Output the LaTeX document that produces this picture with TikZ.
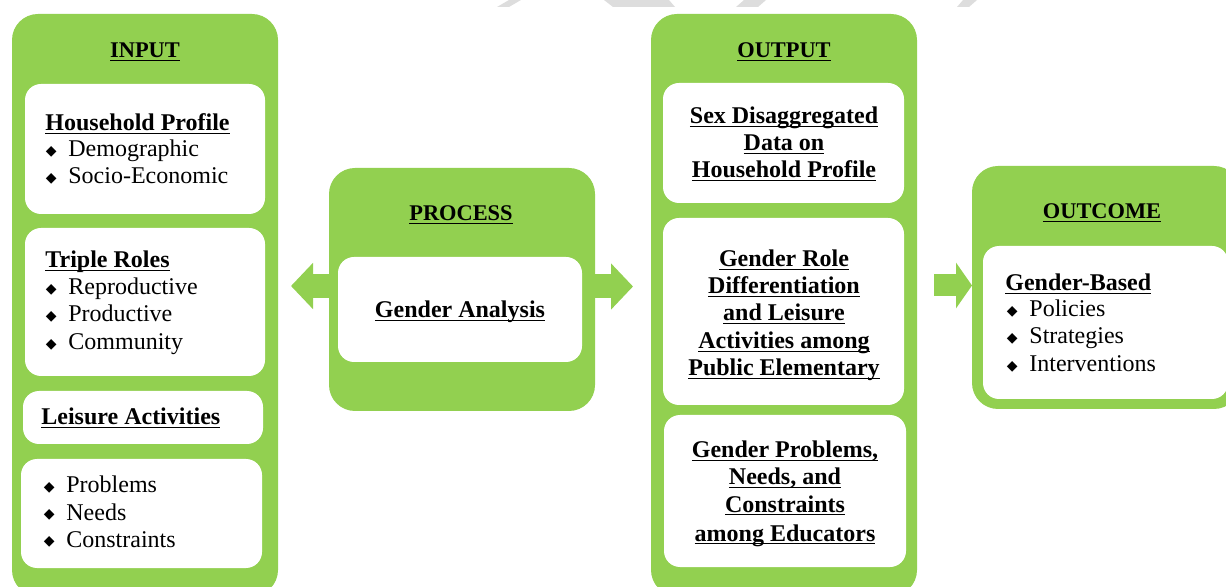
\documentclass[tikz,border=0pt]{standalone}
\usepackage{fontspec}
\setmainfont{Liberation Serif}
\newfontfamily\symfont{DejaVu Sans}
\usetikzlibrary{fit,arrows.meta}
\definecolor{lgreen}{HTML}{92D050}
\definecolor{wmgray}{HTML}{DDDDDD}
\newcommand\myul[1]{\setbox0\hbox{#1}\rlap{\rule[-1.7pt]{\wd0}{0.7pt}}\box0}
\newcommand\bul{\makebox[11.5pt][l]{\hspace{0.2pt}{\symfont\fontsize{7}{8}\selectfont\raisebox{0.6pt}{◆}}}}
\begin{document}
\begin{tikzpicture}[x=0.5pt,y=-0.5pt,
  gbox/.style={fill=lgreen, rounded corners=13pt, inner sep=0pt, outer sep=0pt},
  wbox/.style={fill=white, rounded corners=8pt, inner sep=0pt, outer sep=0pt},
  txt/.style={anchor=base west, inner sep=0pt, font=\fontsize{12}{13.5}\selectfont},
  htxt/.style={anchor=base west, inner sep=0pt, font=\fontsize{12}{13.5}\selectfont\bfseries},
  ctxt/.style={anchor=base, inner sep=0pt, font=\fontsize{12}{13.5}\selectfont\bfseries},
  ttl/.style={anchor=base, inner sep=0pt, font=\fontsize{11.2}{13.5}\selectfont\bfseries},
  blk/.style={draw=lgreen, line width=12pt, -{Triangle[width=22.5pt,length=11pt]}},
  blks/.style={draw=lgreen, line width=11pt, -{Triangle[width=22.5pt,length=8pt]}}]
\useasboundingbox (0,0) rectangle (1226,587);

% faint watermark slivers at the top edge
\fill[wmgray] (497,7) -- (509,7) -- (521,0) -- (509,0) -- cycle;
\fill[wmgray] (604,0) -- (669,0) -- (675,7) -- (613,7) -- cycle;
\fill[wmgray] (744,0) -- (766,0) -- (758,7) -- (736,7) -- cycle;
\fill[wmgray] (963,0) -- (977,0) -- (969,7) -- (957,7) -- cycle;

% containers
\node[gbox, fit={(12,14)(278,596)}] (input) {};
\node[gbox, fit={(329,168)(595,411)}] (process) {};
\node[gbox, fit={(651,14)(917,596)}] (output) {};
\node[gbox, fit={(972,166)(1240,409)}] (outcome) {};

% white boxes
\node[wbox, fit={(25,84)(265,214)}] (hh) {};
\node[wbox, fit={(25,228)(265,376)}] (tr) {};
\node[wbox, fit={(23,391)(263,444)}] (la) {};
\node[wbox, fit={(21,459)(262,568)}] (pn) {};
\node[wbox, fit={(338,257)(582,362)}] (ga) {};
\node[wbox, fit={(663,83)(904,203)}] (sd) {};
\node[wbox, fit={(663,218)(904,405)}] (gr) {};
\node[wbox, fit={(664,415)(906,567)}] (gp) {};
\node[wbox, fit={(983,246)(1228,399)}] (gb) {};

% block arrows
\coordinate (tipL) at (291,286);
\coordinate (tipR) at (633,286.5);
\coordinate (startO) at (934,285.5);
\draw[blk] ([yshift=1.75pt]process.west) -- (tipL);
\draw[blk] ([yshift=1.5pt]process.east) -- (tipR);
\draw[blks] (startO) -- ([yshift=1pt]outcome.west);

% INPUT
\node[ttl] (tin) at (145,58) {\myul{INPUT}};
\node[htxt] (hh1) at (45,131) {\myul{Household Profile}};
\node[txt] (hh2) at (45,157) {\bul Demographic};
\node[txt] (hh3) at (45,184) {\bul Socio-Economic};
\node[htxt] (tr1) at (45,268) {\myul{Triple Roles}};
\node[txt] (tr2) at (45,295) {\bul Reproductive};
\node[txt] (tr3) at (45,322) {\bul Productive};
\node[txt] (tr4) at (45,350) {\bul Community};
\node[htxt] (la1) at (41,425) {\myul{Leisure Activities}};
\node[txt] (pn1) at (43,493) {\bul Problems};
\node[txt] (pn2) at (43,520) {\bul Needs};
\node[txt] (pn3) at (43,547) {\bul Constraints};

% PROCESS
\node[ttl] (tpr) at (461,221) {\myul{PROCESS}};
\node[ctxt] (ga1) at (460,318) {\myul{Gender Analysis}};

% OUTPUT
\node[ttl] (tout) at (784,58) {\myul{OUTPUT}};
\node[ctxt] (sd1) at (784,124) {\myul{Sex Disaggregated}};
\node[ctxt] (sd2) at (784,151) {\myul{Data on}};
\node[ctxt] (sd3) at (784,178) {\myul{Household Profile}};
\node[ctxt] (gr1) at (784,267) {\myul{Gender Role}};
\node[ctxt] (gr2) at (784,294) {\myul{Differentiation}};
\node[ctxt] (gr3) at (784,321) {\myul{and Leisure}};
\node[ctxt] (gr4) at (784,349) {\myul{Activities among}};
\node[ctxt] (gr5) at (784,376) {\myul{Public Elementary}};
\node[ctxt] (gp1) at (785,458) {\myul{Gender Problems,}};
\node[ctxt] (gp2) at (785,485) {\myul{Needs, and}};
\node[ctxt] (gp3) at (785,512) {\myul{Constraints}};
\node[ctxt] (gp4) at (785,541) {\myul{among Educators}};

% OUTCOME
\node[ttl] (toc) at (1102,219) {\myul{OUTCOME}};
\node[htxt] (gb1) at (1005,291) {\myul{Gender-Based}};
\node[txt] (gb2) at (1006,317) {\bul Policies};
\node[txt] (gb3) at (1006,344) {\bul Strategies};
\node[txt] (gb4) at (1006,372) {\bul Interventions};
\end{tikzpicture}
\end{document}
